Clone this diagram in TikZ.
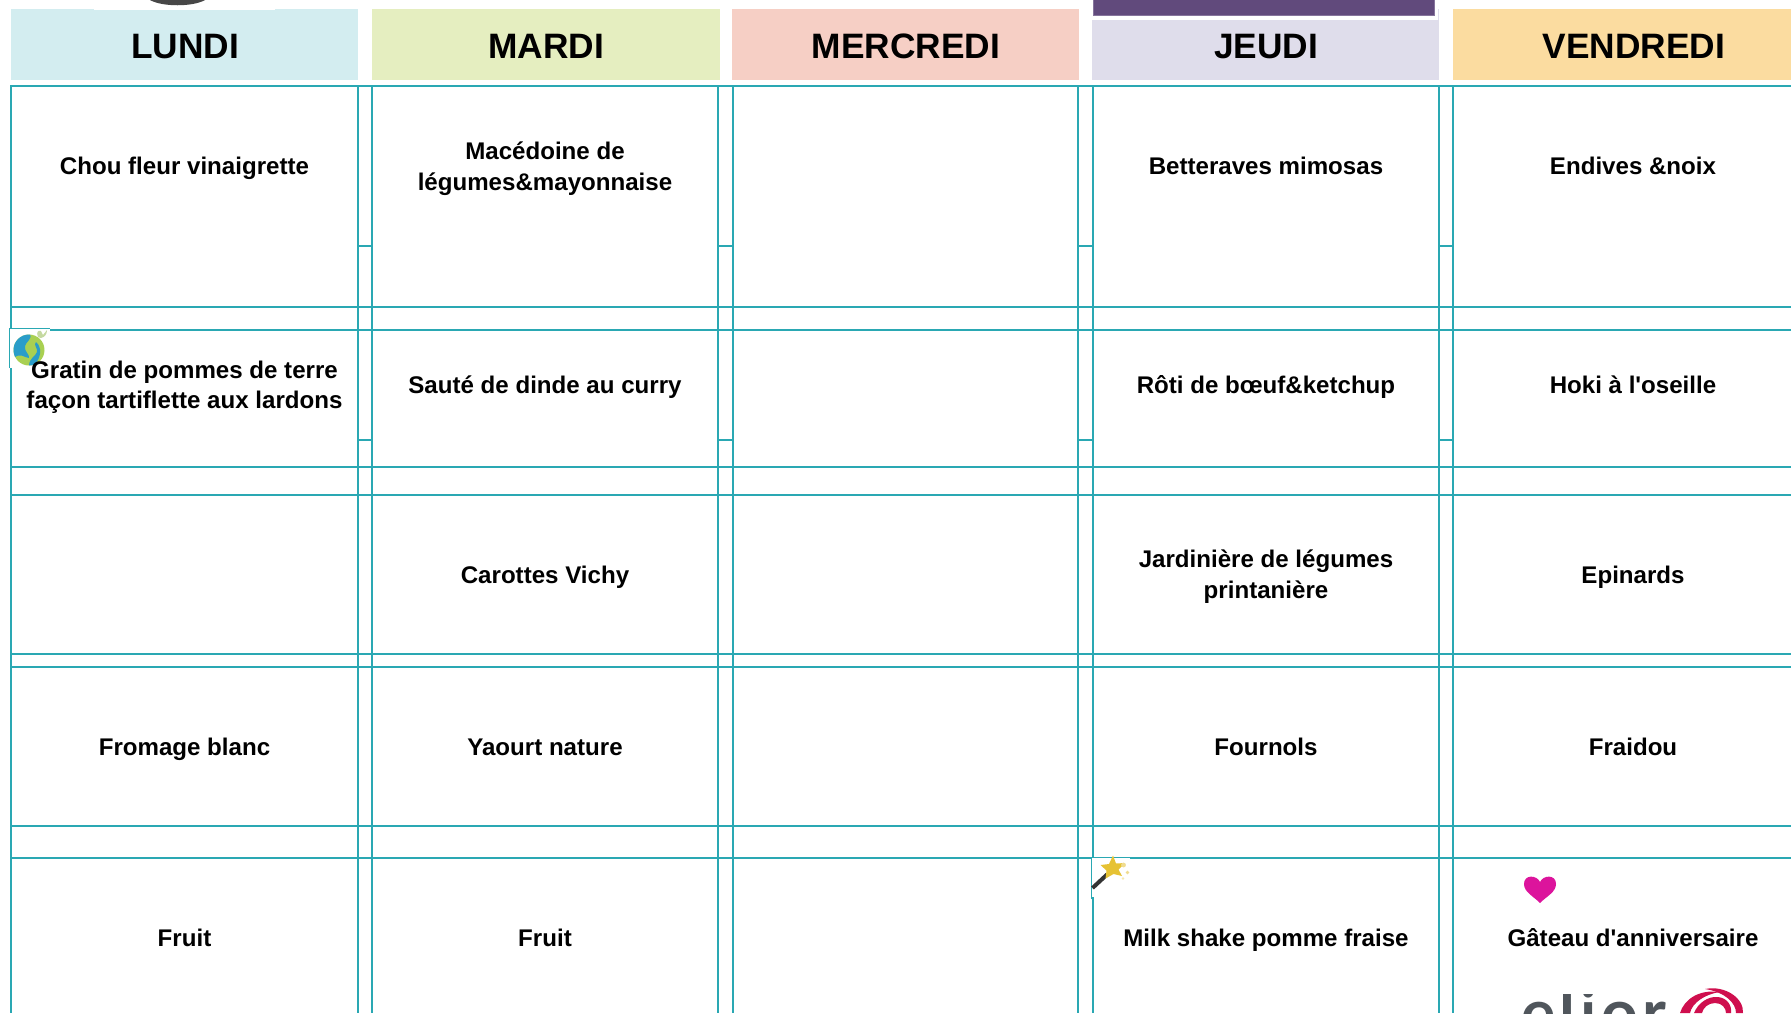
\documentclass[tikz,border=0pt]{standalone}
\usepackage{fontspec}
\setmainfont{Liberation Sans}
\newfontfamily\cellfont{Liberation Sans}
\newfontfamily\logofont[LetterSpace=7]{Lato}
\definecolor{gridc}{HTML}{2AA8B3}
\definecolor{hlun}{HTML}{D3EDF0}
\definecolor{hmar}{HTML}{E5EEC0}
\definecolor{hmer}{HTML}{F6CFC5}
\definecolor{hjeu}{HTML}{DFDDEB}
\definecolor{hven}{HTML}{FBDCA0}
\definecolor{purp}{HTML}{614A7C}
\definecolor{purpedge}{HTML}{86749C}
\definecolor{globegreen}{HTML}{A9D052}
\definecolor{globeblue}{HTML}{2A9DC9}
\definecolor{leafc}{HTML}{C5D9A0}
\definecolor{starc}{HTML}{E6C233}
\definecolor{sparkc}{HTML}{F0DC90}
\definecolor{heartc}{HTML}{DC149C}
\definecolor{logogrey}{HTML}{50565C}
\definecolor{logored}{HTML}{CF0F4E}
\tikzset{
 x=1pt,y=-1pt,
 gridline/.style={draw=gridc,line width=1.9pt},
 head/.style={font=\fontsize{35.3}{36}\selectfont\cellfont\bfseries,text=black,anchor=base,inner sep=0pt},
 cell/.style={font=\fontsize{24.1}{30.5}\selectfont\cellfont\bfseries,text=black,align=center,anchor=base,inner sep=0pt},
 frameline/.style={draw=gridc,line width=0.9pt},
}
\begin{document}
\begin{tikzpicture}
\useasboundingbox (0,0) rectangle (1791,1013);
\fill[white] (0,0) rectangle (1791,1013);
% headers
\fill[hlun] (11,9) rectangle (358,80);
\fill[hmar] (372,9) rectangle (719.5,80);
\fill[hmer] (732,9) rectangle (1079,80);
\fill[hjeu] (1092,9) rectangle (1439,80);
\fill[hven] (1453,9) rectangle (1791,80);
% top fragments
\fill[white] (94,0) rectangle (275,9.6);
\fill[black!72] (150,0) .. controls (162,7) and (193,7) .. (205,0) -- cycle;
\fill[white] (1092,0) rectangle (1438,20);
\fill[purp,draw=purpedge,line width=0.8pt] (1093.5,-2) rectangle (1434,15.5);
\node[head] (h1) at (185,58.5) {LUNDI};
\node[head] (h2) at (546,58.5) {MARDI};
\node[head] (h3) at (906,58.5) {MERCREDI};
\node[head] (h4) at (1266,58.5) {JEUDI};
\node[head] (h5) at (1634,58.5) {VENDREDI};
% grid
\foreach \y in {86,307,330,467,495,654,667,826,858}
  \draw[gridline] (10,\y) -- (1791,\y);
\foreach \x in {11,358,372,718,733,1078,1093,1439,1453}
  \draw[gridline] (\x,85) -- (\x,1013);
\foreach \a/\b in {358/372,718/733,1078/1093,1439/1453}{
  \draw[gridline] (\a,246) -- (\b,246);
  \draw[gridline] (\a,440) -- (\b,440);
}
% globe icon
\fill[white] (9.6,328.5) rectangle (50,368);
\draw[frameline] (9.8,368) -- (9.8,328.5) -- (50,328.5);
\fill[leafc] (38,337) .. controls (36,332) and (38,330) .. (41,331) -- (43,335) .. controls (45,333) and (46,331) .. (47,330) .. controls (47,334) and (45,337) .. (41,338) -- cycle;
\fill[globegreen] (29,350) circle (15.5);
\begin{scope}
\clip (29,350) circle (15.5);
\fill[globeblue] (13,336) -- (30,334) .. controls (33,338) and (26,342) .. (25,346) .. controls (24,352) and (30,354) .. (29,358) .. controls (25,358) and (20,352) .. (14,358) -- cycle;
\fill[globeblue] (29,366) .. controls (29,358) and (36,356) .. (37,352) .. controls (38,348) and (33,345) .. (36,342) .. controls (40,345) and (42,352) .. (38,360) .. controls (36,364) and (32,366) .. (29,366) -- cycle;
\end{scope}
% wand icon
\fill[white] (1091.8,857) rectangle (1130,897);
\draw[frameline] (1091.8,899) -- (1091.8,857) -- (1130,857);
\draw[black!80,line width=4pt] (1092.5,888) -- (1107,874.5);
\fill[starc] (1113,855.5) -- (1116,863.5) -- (1125,863) -- (1118.5,869.5) -- (1122,876) -- (1113.5,874) -- (1105.5,878.5) -- (1106.5,870.5) -- (1100.5,865) -- (1109,864) -- cycle;
\fill[sparkc] (1123.5,865) circle (2.4);
\fill[sparkc] (1127.5,872.5) circle (1.8);
\fill[sparkc!70!white] (1123,878.5) circle (1.3);
% heart
\fill[heartc] (1540,903) .. controls (1533,896) and (1524,892) .. (1524,884) .. controls (1524,874) and (1537,875) .. (1540,882) .. controls (1543,875) and (1556,874) .. (1556,884) .. controls (1556,892) and (1547,896) .. (1540,903) -- cycle;
% logo
\begin{scope}
\clip (1500,994.3) rectangle (1791,1013);
\node[font=\fontsize{64}{64}\selectfont\logofont\bfseries,text=logogrey,anchor=base west,inner sep=0pt] (logo) at (1521,1035.5) {elior};
\end{scope}
\begin{scope}
\clip (1670,980) rectangle (1791,1013);
\fill[logored] (1705,989) .. controls (1725,985) and (1744,998) .. (1743,1013) -- (1736,1013) .. controls (1736,1003) and (1725,992) .. (1705,989) -- cycle;
\fill[logored] (1680,1013) .. controls (1684,1000) and (1698,989) .. (1720,992) .. controls (1705,994) and (1692,1003) .. (1690,1013) -- cycle;
\fill[logored] (1694,1013) .. controls (1698,1003) and (1708,996) .. (1718,997) .. controls (1727,998) and (1732,1005) .. (1731,1013) -- (1726,1013) .. controls (1726,1008) and (1722,1003) .. (1715,1003) .. controls (1708,1003) and (1703,1008) .. (1702,1013) -- cycle;
\end{scope}
% texts
\node[cell] (c11) at (184.5,174) {Chou fleur vinaigrette};
\node[cell] (c12) at (545,190) {Macédoine de\\légumes\&mayonnaise};
\node[cell] (c14) at (1266,174) {Betteraves mimosas};
\node[cell] (c15) at (1633,174) {Endives \&noix};
\node[cell] (c21) at (184.5,408.5) {Gratin de pommes de terre\\façon tartiflette aux lardons};
\node[cell] (c22) at (545,393.5) {Sauté de dinde au curry};
\node[cell] (c24) at (1266,393.5) {Rôti de bœuf\&ketchup};
\node[cell] (c25) at (1633,393.5) {Hoki à l'oseille};
\node[cell] (c32) at (545,583) {Carottes Vichy};
\node[cell] (c34) at (1266,598) {Jardinière de légumes\\printanière};
\node[cell] (c35) at (1633,583) {Epinards};
\node[cell] (c41) at (184.5,755.5) {Fromage blanc};
\node[cell] (c42) at (545,755.5) {Yaourt nature};
\node[cell] (c44) at (1266,755.5) {Fournols};
\node[cell] (c45) at (1633,755.5) {Fraidou};
\node[cell] (c51) at (184.5,946.5) {Fruit};
\node[cell] (c52) at (545,946.5) {Fruit};
\node[cell] (c54) at (1266,946.5) {Milk shake pomme fraise};
\node[cell] (c55) at (1633,946.5) {Gâteau d'anniversaire};
\end{tikzpicture}
\end{document}
